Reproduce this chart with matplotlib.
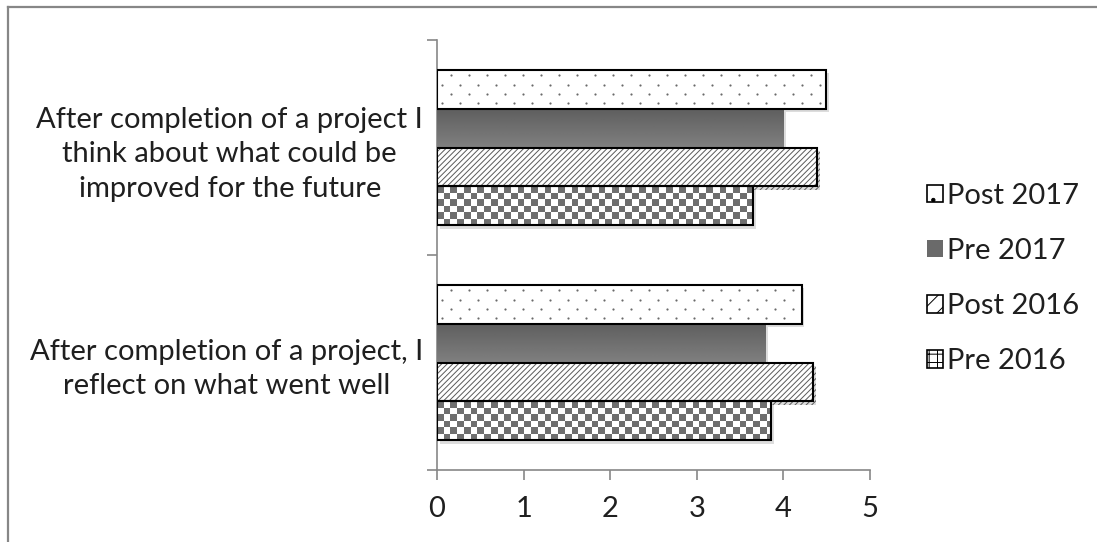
import matplotlib
matplotlib.use("Agg")
import matplotlib.pyplot as plt
import matplotlib.patheffects as pe
from matplotlib.patches import Patch
from matplotlib.lines import Line2D
import numpy as np

# survey statements (bottom to top) and mean scores per series
categories = [
    "After completion of a project, I\nreflect on what went well",
    "After completion of a project I\nthink about what could be\nimproved for the future",
]
series = ["Post 2017", "Pre 2017", "Post 2016", "Pre 2016"]
post_2017 = [4.21, 4.49]
pre_2017 = [3.79, 4.00]
post_2016 = [4.34, 4.39]
pre_2016 = [3.86, 3.65]

plt.rcParams["font.family"] = ["Lato", "DejaVu Sans"]
plt.rcParams["hatch.linewidth"] = 0.7
FS = 21
TXT = "#1f1f1f"
GRID = "#878787"

fig = plt.figure(figsize=(10.97, 5.42), dpi=100)
ax = fig.add_axes([437 / 1097, 1 - 470 / 542, (870 - 437) / 1097, (470 - 40) / 542])

# outer chart frame (top and left edges visible)
fig.add_artist(Line2D([8 / 1097, 1.01], [1 - 7 / 542, 1 - 7 / 542], color=GRID, lw=1.6, transform=fig.transFigure))
fig.add_artist(Line2D([8 / 1097, 8 / 1097], [1 - 7 / 542, -0.01], color=GRID, lw=1.6, transform=fig.transFigure))

h = 0.181
ypos = np.arange(len(categories)) + 0.5
shadow = [pe.SimplePatchShadow(offset=(2, -2.5), alpha=0.18, shadow_rgbFace="#444444"), pe.Normal()]

# Post 2017: white with small grey dots
dx, dy = 0.208, 0.043
for y, v in zip(ypos + 1.5 * h, post_2017):
    b = ax.barh(y, v, height=h, color="white", linewidth=0, zorder=2)[0]
    b.set_path_effects(shadow)
    pts_x, pts_y = [], []
    for r, yy in enumerate(np.arange(y - 1.5 * dy, y + 1.6 * dy, dy)):
        xs = np.arange(dx * (0.25 + 0.5 * (r % 2)), v, dx)
        pts_x.extend(xs)
        pts_y.extend([yy] * len(xs))
    sc = ax.scatter(pts_x, pts_y, s=2.5, color="#6a6a6a", linewidths=0, zorder=3)
    sc.set_clip_path(b)
    ax.barh(y, v, height=h, fill=False, edgecolor="black", linewidth=1.5, zorder=4)

# Pre 2017: grey gradient
grad = np.linspace(0.50, 0.37, 40).reshape(-1, 1)
for y, v in zip(ypos + 0.5 * h, pre_2017):
    b = ax.barh(y, v, height=h, color="#666666", linewidth=0, zorder=2)[0]
    b.set_path_effects(shadow)
    im = ax.imshow(grad, cmap="gray", vmin=0, vmax=1, aspect="auto",
                   extent=(0, v, y + h / 2, y - h / 2), origin="upper", zorder=3)
    im.set_clip_path(b)

# Post 2016: diagonal hatch
for y, v in zip(ypos - 0.5 * h, post_2016):
    b = ax.barh(y, v, height=h, color="white", edgecolor="#5a5a5a", linewidth=0, hatch="//////", zorder=2)[0]
    b.set_path_effects(shadow)
    ax.barh(y, v, height=h, fill=False, edgecolor="black", linewidth=1.5, zorder=4)

# Pre 2016: checkerboard
sq = 0.0775
for y, v in zip(ypos - 1.5 * h, pre_2016):
    b = ax.barh(y, v, height=h, color="white", linewidth=0, zorder=2)[0]
    b.set_path_effects(shadow)
    ncol = int(np.ceil(v / sq))
    chk = (np.add.outer(np.arange(6), np.arange(ncol)) % 2).astype(float)
    im = ax.imshow(chk, cmap=matplotlib.colors.ListedColormap(["white", "#6e6e6e"]), aspect="auto",
                   extent=(0, ncol * sq, y - h / 2, y + h / 2), origin="lower", zorder=3, interpolation="nearest")
    im.set_clip_path(b)
    ax.barh(y, v, height=h, fill=False, edgecolor="black", linewidth=1.5, zorder=4)

ax.set_xlim(0, 5)
ax.set_ylim(0, 2)
ax.set_xticks(range(6))
ax.set_yticks([0, 1, 2])
ax.set_yticklabels([])
ax.set_yticks(ypos, minor=True)
ax.set_yticklabels(categories, minor=True)
for lab in ax.get_yticklabels(minor=True):
    lab.set_multialignment("center")
    lab.set_linespacing(1.4)

for s in ["top", "right"]:
    ax.spines[s].set_visible(False)
for s in ["left", "bottom"]:
    ax.spines[s].set_color(GRID)
    ax.spines[s].set_linewidth(1.2)
ax.tick_params(axis="both", which="major", color=GRID, length=7, width=1.2, labelsize=FS, labelcolor=TXT)
ax.tick_params(axis="x", pad=12)
ax.tick_params(axis="y", which="minor", length=0, labelsize=FS, labelcolor=TXT, pad=10)

handles = [
    Patch(facecolor="white", edgecolor="black", hatch=".", linewidth=1.2),
    Patch(facecolor="#6a6a6a", edgecolor="none"),
    Patch(facecolor="white", edgecolor="black", hatch="//", linewidth=1.2),
    Patch(facecolor="white", edgecolor="black", hatch="++", linewidth=1.2),
]
leg = fig.legend(handles, series, loc="center left", bbox_to_anchor=(0.845, 0.486), frameon=False,
                 fontsize=FS, labelspacing=1.0, handlelength=0.55, handleheight=0.55,
                 handletextpad=0.15, labelcolor=TXT, borderaxespad=0, borderpad=0)

fig.savefig("out.png", dpi=100)
